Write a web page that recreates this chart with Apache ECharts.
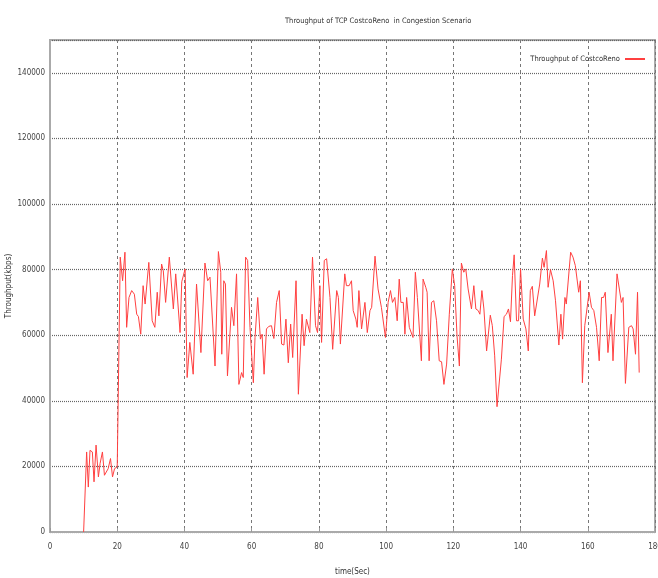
<!DOCTYPE HTML>
<html>
	<head>
		<meta charset="utf-8">
		<script src="https://cdn.jsdelivr.net/npm/echarts@6/dist/echarts.min.js"></script>
		<title>Throughput of TCP CostcoReno</title>
		<style>
			html, body { margin: 0; padding: 0; background: #fff; }
			#main { width: 658px; height: 578px; }
		</style>
		<script type="text/javascript">
			// time (sec) of each sample
			var times = [
				10.0, 10.9, 11.4, 11.9, 12.6, 13.1, 13.7, 14.4, 14.9, 15.6, 16.2, 16.7, 17.3, 18.0, 18.6, 19.2, 19.6, 20.0,
				20.9, 21.6, 22.3, 22.8, 23.5, 24.3, 25.1, 25.8, 26.3, 27.0, 27.7, 28.3, 29.4, 30.4, 31.2, 31.9, 32.4,
				33.2, 33.7, 34.4, 34.9, 35.5, 36.0, 36.7, 37.4, 38.7, 39.2, 39.7, 40.2, 40.8, 41.6, 42.6, 43.6, 44.1,
				44.9, 46.1, 46.9, 47.6, 49.1, 50.1, 50.8, 51.1, 51.7, 52.2, 52.8, 54.0, 54.7, 55.5, 56.2, 57.0, 57.5,
				58.2, 58.8, 59.5, 60.5, 61.0, 61.8, 62.6, 63.1, 63.7, 64.4, 65.1, 65.9, 66.6, 67.4, 68.2, 68.9, 69.6,
				70.2, 70.9, 71.6, 72.2, 73.2, 73.9, 75.0, 75.6, 76.3, 76.8, 77.3, 78.1, 79.0, 79.6, 80.3, 80.8, 81.6,
				82.3, 83.3, 84.1, 85.3, 85.8, 86.4, 87.7, 88.2, 89.0, 89.7, 90.2, 91.0, 91.4, 91.9, 92.7, 93.7, 94.4,
				95.2, 95.7, 96.7, 97.6, 98.6, 99.1, 99.8, 100.6, 101.3, 101.9, 102.6, 103.3, 103.9, 104.4, 105.1, 105.6,
				106.1, 106.9, 108.0, 108.7, 109.3, 109.8, 110.5, 111.0, 111.8, 112.2, 112.8, 113.5, 114.2, 115.0, 115.8,
				116.5, 117.2, 118.0, 118.8, 119.7, 120.4, 121.1, 121.8, 122.4, 123.1, 123.7, 124.4, 125.4, 126.1, 126.7,
				127.4, 127.9, 128.5, 129.1, 129.9, 131.0, 131.6, 132.3, 133.0, 133.5, 134.3, 135.1, 135.8, 136.4, 137.0,
				137.6, 138.1, 138.8, 139.4, 140.0, 140.8, 141.6, 142.3, 142.9, 143.5, 144.2, 144.7, 145.7, 146.5, 147.0,
				147.7, 148.2, 148.9, 149.7, 150.4, 151.4, 152.0, 152.5, 153.2, 153.6, 154.9, 155.6, 156.3, 157.3, 157.8,
				158.4, 159.1, 160.4, 161.1, 161.8, 162.6, 163.4, 164.1, 164.7, 165.2, 166.0, 167.0, 167.5, 168.7, 170.0,
				170.5, 171.2, 172.2, 173.0, 173.5, 174.2, 174.8, 175.3
			];
			// throughput (kbps)
			var throughput = [
				0, 24400, 13700, 24900, 24400, 15300, 26500, 16800, 20900, 24400, 17300, 16800, 19300, 22400, 16800, 19300, 18800, 19900,
				83800, 76600, 85300, 62400, 71500, 73600, 72500, 66400, 65700, 60300, 75100, 69500, 82200, 64400, 62400, 73100, 65900,
				81700, 79700, 70000, 69500, 83800, 83300, 68000, 78700, 60800, 76300, 76600, 80200, 47100, 57800, 48100, 75600, 76100,
				54700, 82000, 76600, 77700, 50600, 85500, 79200, 54200, 76600, 75600, 47600, 68500, 62900, 78700, 45000, 48600, 47100,
				83800, 82800, 62400, 45500, 59300, 71500, 58800, 60300, 48100, 61900, 62700, 62900, 59000, 70000, 73600, 57300, 57000,
				64900, 51600, 63400, 53200, 76600, 42000, 66400, 56800, 64900, 64700, 60800, 83800, 62900, 60800, 75100, 57800, 82800,
				83300, 71500, 55700, 73600, 71500, 57300, 78700, 75100, 75100, 76600, 67500, 64900, 62400, 73600, 61900, 70000, 60800,
				67500, 68500, 84100, 74100, 68500, 68000, 59300, 70000, 73600, 70000, 71500, 64400, 77100, 70000, 70000, 60300,
				71500, 62400, 59300, 79200, 71500, 71500, 52200, 77100, 74600, 73100, 52200, 70000, 70500, 64400, 52200,
				51900, 45000, 51200, 66400, 80200, 75100, 59800, 50600, 82000, 79200, 80200, 74100, 68000, 75100, 68000,
				67500, 66400, 73600, 68000, 55200, 66100, 62900, 53700, 38200, 38400, 52700, 65700, 66400, 68000, 64100,
				78200, 84500, 64400, 64400, 80200, 64900, 61900, 55200, 73600, 74900, 65900, 65900, 75600, 83500, 80700,
				85800, 74600, 80000, 76600, 70500, 57000, 66400, 58800, 71500, 69500, 85300, 83800, 81200, 73100, 76600,
				45500, 62900, 73100, 68500, 67500, 62400, 52200, 71500, 71500, 73100, 54700, 66400, 52200, 78700, 70000,
				71500, 45300, 62400, 62900, 61900, 54200, 73100, 48600
			];
			var xTicks = { min: 0, max: 180, interval: 20 };
			var yTicks = { min: 0, max: 150000, interval: 20000 };

			window.onload = function() {
				var myChart = echarts.init(document.getElementById('main'));
				var seriesData = [];
				for (var i = 0; i < times.length; i++) {
					seriesData.push([times[i], throughput[i]]);
				}
				var font = '"Liberation Sans Narrow", "DejaVu Sans Condensed", sans-serif';
				var option = {
					animation: false,
					title: {
						text: 'Throughput of TCP CostcoReno  in Congestion Scenario',
						left: 280,
						top: 12,
						textStyle: { fontSize: 7.5, fontWeight: 'normal', color: '#333', fontFamily: font }
					},
					legend: {
						right: 8,
						top: 50,
						align: 'right',
						itemWidth: 20,
						itemHeight: 2,
						itemGap: 4,
						icon: 'rect',
						textStyle: { fontSize: 7.5, color: '#333', fontFamily: font },
						data: ['Throughput of CostcoReno']
					},
					grid: {
						left: 50,
						right: 3,
						top: 40,
						bottom: 46,
						containLabel: false,
						outerBoundsMode: 'none',
						show: true,
						borderColor: '#aaa',
						borderWidth: 2
					},
					xAxis: {
						type: 'value',
						min: xTicks.min,
						max: xTicks.max,
						interval: xTicks.interval,
						name: 'time(Sec)',
						nameLocation: 'middle',
						nameGap: 36,
						nameMoveOverlap: false,
						nameTextStyle: { fontSize: 8, color: '#333', fontFamily: font },
						axisLine: { lineStyle: { color: '#aaa', width: 2 } },
						axisTick: { inside: true, length: 4, lineStyle: { color: '#999' } },
						axisLabel: {
							fontSize: 8, color: '#444', margin: 11, fontFamily: font,
							formatter: function(v) { return String(v); }
						},
						splitLine: { lineStyle: { color: '#777', width: 1, type: [3, 3] } }
					},
					yAxis: {
						type: 'value',
						min: yTicks.min,
						max: yTicks.max,
						interval: yTicks.interval,
						name: 'Throughput(kbps)',
						nameLocation: 'middle',
						nameGap: 37,
						nameRotate: 90,
						nameMoveOverlap: false,
						nameTextStyle: { fontSize: 8, color: '#333', fontFamily: font },
						axisLine: { show: true, lineStyle: { color: '#aaa', width: 2 } },
						axisTick: { show: false },
						axisLabel: {
							fontSize: 8, color: '#444', margin: 5, showMaxLabel: false, fontFamily: font,
							formatter: function(v) { return String(v); }
						},
						splitLine: { lineStyle: { color: '#666', width: 1.2, type: [1, 1] } }
					},
					series: [{
						name: 'Throughput of CostcoReno',
						type: 'line',
						data: seriesData,
						showSymbol: false,
						color: '#ff4040',
						lineStyle: { color: '#ff4040', width: 1 }
					}]
				};
				myChart.setOption(option);
			};
		</script>
	</head>
	<body>
		<div id="main"></div>
	</body>
</html>
